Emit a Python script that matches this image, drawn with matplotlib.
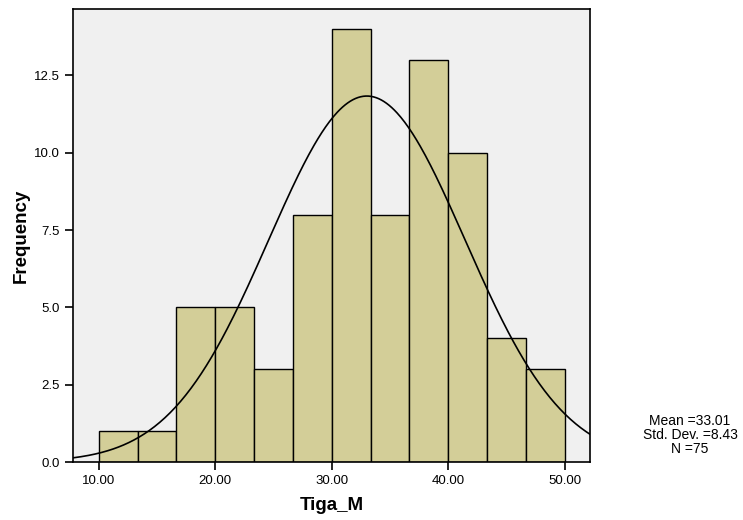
import numpy as np
import matplotlib
matplotlib.use("Agg")
from matplotlib import pyplot as plt

# histogram of Tiga_M, 12 bins between 10 and 50
bin_edges = np.linspace(10, 50, 13)
counts = [1, 1, 5, 5, 3, 8, 14, 8, 13, 10, 4, 3]
mean_val = 33.01
std_val = 8.43
n_val = 75
x_ticks = [10, 20, 30, 40, 50]
y_ticks = [0, 2.5, 5, 7.5, 10, 12.5]

plt.rcParams['font.family'] = ['Liberation Sans', 'DejaVu Sans']

fig = plt.figure(figsize=(7.43, 5.2), dpi=100)
ax = fig.add_axes([0.0983, 0.1115, 0.6957, 0.8715])
ax.set_facecolor('#F0F0F0')

widths = np.diff(bin_edges)
ax.bar(bin_edges[:-1], counts, width=widths, align='edge',
       color='#D3CE98', edgecolor='black', linewidth=1.0)

# normal curve scaled to counts
xs = np.linspace(7.8, 52.15, 400)
bw = widths[0]
ys = n_val * bw / (std_val * np.sqrt(2 * np.pi)) * np.exp(-0.5 * ((xs - mean_val) / std_val) ** 2)
ax.plot(xs, ys, color='black', linewidth=1.2)

ax.set_xlim(7.8, 52.15)
ax.set_ylim(0, 14.65)
ax.set_xticks(x_ticks)
ax.set_xticklabels(['%.2f' % t for t in x_ticks])
ax.set_yticks(y_ticks)
ax.set_yticklabels(['%.1f' % t for t in y_ticks])
ax.tick_params(direction='out', length=6, width=1.2, labelsize=9.5, colors='black')
for s in ax.spines.values():
    s.set_linewidth(1.2)

ax.set_xlabel('Tiga_M', fontsize=13.5, fontweight='bold', labelpad=7)
ax.set_ylabel('Frequency', fontsize=13.5, fontweight='bold', labelpad=3)

fig.text(0.9287, 0.1635, 'Mean =%.2f\nStd. Dev. =%.2f\nN =%d' % (mean_val, std_val, n_val),
         ha='center', va='center', fontsize=10, linespacing=1.0)

fig.savefig('out.png', dpi=100)
